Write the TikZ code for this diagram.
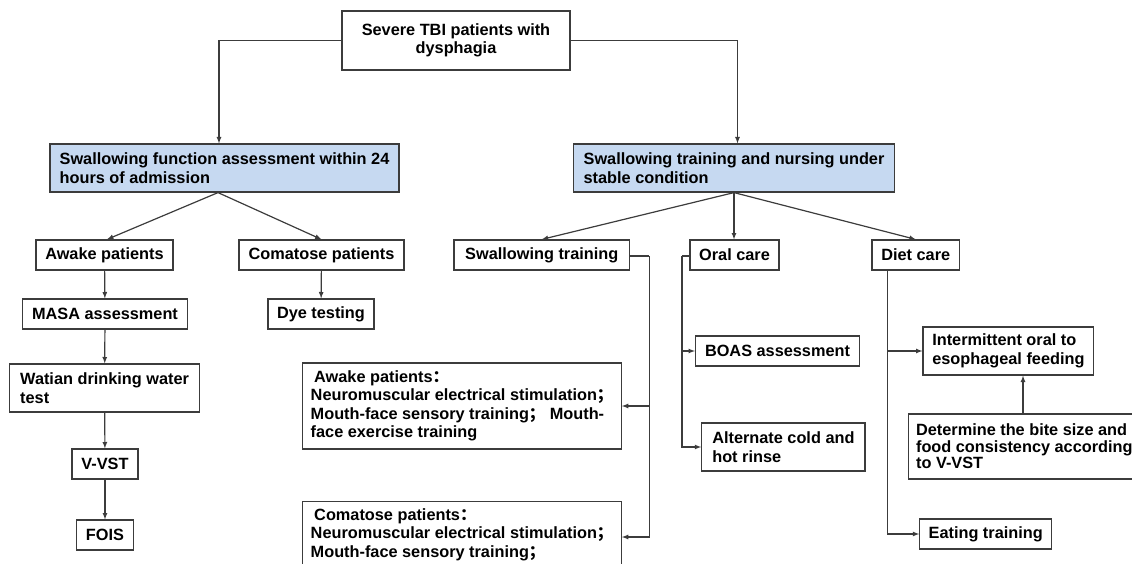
\documentclass[tikz,border=0pt]{standalone}
\usepackage{fontspec}
\setmainfont{Liberation Sans}
\newfontfamily\cjkfont{Noto Sans CJK SC}
\usetikzlibrary{arrows}
\definecolor{headblue}{RGB}{198,217,241}
\definecolor{linegray}{RGB}{60,60,60}
\newcommand{\fsc}{{\cjkfont ；}}
\newcommand{\fco}{{\cjkfont ：}}

\begin{document}
\begin{tikzpicture}[x = 1pt, y = -1pt]
\tikzstyle{BoxStyle}=[draw = linegray, line width = 1.2pt, fill = white,
                      font = \bfseries\fontsize{16.3}{18.5}\selectfont,
                      align = left, inner xsep = 8pt, inner ysep = 4pt,
                      minimum height = 30pt]
\tikzstyle{HeadStyle}=[BoxStyle, fill = headblue, minimum height = 48pt]
\tikzstyle{LinkStyle}=[draw = linegray, line width = 1.2pt, ->, >=latex]
\useasboundingbox (0,0) rectangle (1132,564);
\clip (0,0) rectangle (1132,564);
\node[BoxStyle, align = center, minimum width = 228pt, minimum height = 59pt] (tbi) at (456,40.5) {Severe TBI patients with\\dysphagia};
\node[HeadStyle, minimum width = 349pt] (assess) at (224.5,168) {Swallowing function assessment within 24\\hours of admission};
\node[HeadStyle, minimum width = 321pt] (nursing) at (734,168) {Swallowing training and nursing under\\stable condition};
\node[BoxStyle, minimum width = 137pt] (awake) at (104.5,255) {Awake patients};
\node[BoxStyle, minimum width = 165pt] (coma) at (321.5,255) {Comatose patients};
\node[BoxStyle, minimum width = 175.5pt] (swtrain) at (541.75,255) {Swallowing training};
\node[BoxStyle, minimum width = 89pt] (oral) at (734.5,255) {Oral care};
\node[BoxStyle, minimum width = 87.5pt] (diet) at (915.75,255) {Diet care};
\node[BoxStyle, minimum width = 164.7pt] (masa) at (105,314) {MASA assessment};
\node[BoxStyle, minimum width = 106pt] (dye) at (321,314) {Dye testing};
\node[BoxStyle, minimum width = 190pt, minimum height = 48pt] (watian) at (104.6,388) {Watian drinking water\\test};
\node[BoxStyle, minimum width = 66pt] (vvst) at (105,464) {V-VST};
\node[BoxStyle, minimum width = 57pt] (fois) at (105,535) {FOIS};
\node[BoxStyle, minimum width = 316pt, minimum height = 86pt] (awaketr) at (462,406) {\hspace{3.5pt}Awake patients\fco\\Neuromuscular electrical stimulation\fsc\\Mouth-face sensory training\fsc\ Mouth-\\face exercise training};
\node[BoxStyle, anchor = north, minimum width = 316pt, inner ysep = 7pt] (comatr) at (462,501) {\hspace{3.5pt}Comatose patients\fco\\Neuromuscular electrical stimulation\fsc\\Mouth-face sensory training\fsc};
\node[BoxStyle, minimum width = 164pt] (boas) at (777.5,351) {BOAS assessment};
\node[BoxStyle, minimum width = 163.3pt, minimum height = 48pt] (rinse) at (783.4,447) {Alternate cold and\\hot rinse};
\node[BoxStyle, minimum width = 170.8pt, minimum height = 48pt] (feeding) at (1008.4,351) {Intermittent oral to\\esophageal feeding};
\node[BoxStyle, anchor = west, minimum height = 65pt, font = \bfseries\fontsize{16.3}{16.5}\selectfont] (bite) at (907.5,446.5) {Determine the bite size and\\food consistency according\\to V-VST};
\node[BoxStyle, minimum width = 131.8pt] (eating) at (985.7,534) {Eating training};
\coordinate (swbus) at (649.4,256);
\coordinate (oralbus) at (682,256);
\coordinate (dietbus) at ([xshift = -28pt]diet.south);
\coordinate (bitecol) at ([xshift = 14.6pt]feeding.south);
\draw[LinkStyle] (tbi.west) -| ([xshift = -5.5pt]assess.north);
\draw[LinkStyle] (tbi.east) -| ([xshift = 3.5pt]nursing.north);
\draw[LinkStyle] ([xshift = -6.5pt]assess.south) -- ([xshift = 2.5pt]awake.north);
\draw[LinkStyle] ([xshift = -6.5pt]assess.south) -- (coma.north);
\draw[LinkStyle] (nursing.south) -- (swtrain.north);
\draw[LinkStyle] (nursing.south) -- (nursing.south |- oral.north);
\draw[LinkStyle] (nursing.south) -- (diet.north);
\draw[LinkStyle] (awake) -- (masa);
\draw[LinkStyle] (masa) -- (watian);
\draw[LinkStyle] (watian) -- (vvst);
\draw[LinkStyle] (vvst) -- (fois);
\draw[LinkStyle] (coma) -- (dye);
\draw[draw = linegray, line width = 1.2pt] (swtrain.east |- swbus) -- (swbus);
\draw[LinkStyle] (swbus) |- (awaketr.east);
\draw[LinkStyle] (swbus) |- ([yshift = -36pt]comatr.north east);
\draw[draw = linegray, line width = 1.2pt] (oral.west |- oralbus) -- (oralbus);
\draw[LinkStyle] (oralbus) |- (boas.west);
\draw[LinkStyle] (oralbus) |- (rinse.west);
\draw[LinkStyle] (dietbus) |- (feeding.west);
\draw[LinkStyle] (dietbus) |- (eating.west);
\draw[LinkStyle] (bite.north -| bitecol) -- (bitecol);
\end{tikzpicture}
\end{document}
